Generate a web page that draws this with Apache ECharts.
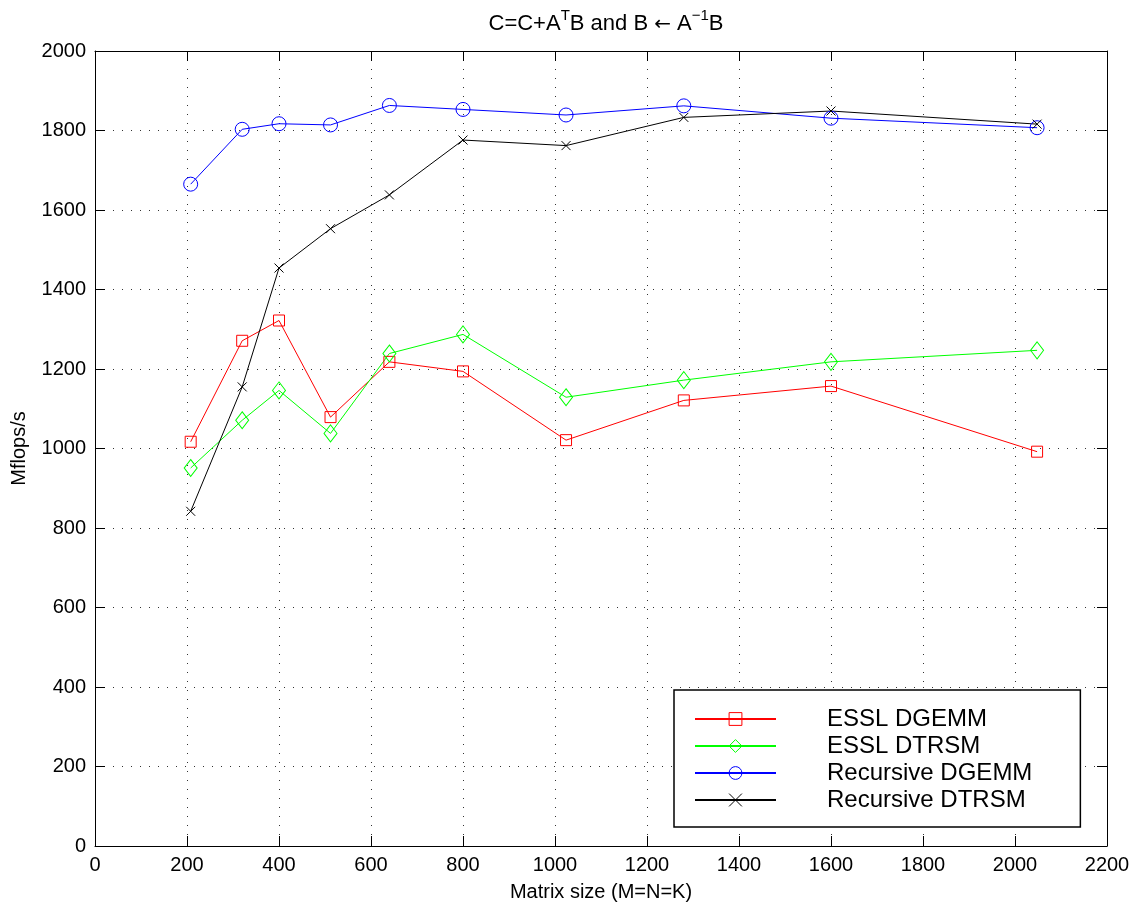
<!DOCTYPE html>
<html>
<head>
<meta charset="utf-8">
<script src="https://cdn.jsdelivr.net/npm/echarts@6/dist/echarts.min.js"></script>
<style>
html,body{margin:0;padding:0;background:#fff;}
#chart{width:1136px;height:907px;}
</style>
</head>
<body>
<div id="chart"></div>
<script>
const sizes = [208, 320, 400, 512, 640, 800, 1024, 1280, 1600, 2048];
const esslDgemm = [1017, 1271, 1322, 1079, 1218, 1194, 1021, 1121, 1157, 992];
const esslDtrsm = [951, 1071, 1146, 1038, 1239, 1287, 1129, 1172, 1218, 1247];
const recDgemm = [1665, 1803, 1817, 1814, 1863, 1853, 1839, 1862, 1831, 1807];
const recDtrsm = [842, 1155, 1454, 1553, 1638, 1776, 1762, 1833, 1849, 1816];
const seriesNames = ['ESSL DGEMM', 'ESSL DTRSM', 'Recursive DGEMM', 'Recursive DTRSM'];

const FONT = '"Liberation Sans", Arial, Helvetica, sans-serif';
const pairs = vals => sizes.map((s, i) => [s, vals[i]]);

function mkSeries(name, vals, color, symbol, symbolSize) {
  return {
    name: name,
    type: 'line',
    data: pairs(vals),
    symbol: symbol,
    symbolSize: symbolSize,
    showAllSymbol: true,
    lineStyle: { color: color, width: 1 },
    itemStyle: { color: 'transparent', borderColor: color, borderWidth: 1 },
    emphasis: { disabled: true },
    z: 3
  };
}

const gridLine = { show: true, lineStyle: { color: '#333', type: [1, 8], width: 1 } };
const axLine = { show: true, onZero: false, lineStyle: { color: '#000', width: 1 } };
const axTick = { show: true, inside: true, length: 10, lineStyle: { color: '#000', width: 1 } };
const plainNum = v => String(v);

const chart = echarts.init(document.getElementById('chart'), null, { renderer: 'canvas' });
chart.setOption({
  animation: false,
  backgroundColor: '#fff',
  textStyle: { fontFamily: FONT },
  title: {
    text: '{n|C=C+A}{s|T}{n|B and B }{ar|\u2190}{n| A}{s|\u22121}{n|B}',
    left: 601,
    textAlign: 'center',
    top: 0,
    textStyle: {
      fontWeight: 'normal',
      rich: {
        n: { fontSize: 22, color: '#000', fontWeight: 'normal', fontFamily: FONT, lineHeight: 30, verticalAlign: 'bottom' },
        ar: { fontSize: 20, color: '#000', fontWeight: 'normal', fontFamily: '"DejaVu Sans", sans-serif', lineHeight: 30, verticalAlign: 'bottom' },
        s: { fontSize: 15, color: '#000', fontWeight: 'normal', fontFamily: FONT, lineHeight: 30, verticalAlign: 'top', padding: [3, 0, 0, 0] }
      }
    }
  },
  grid: { left: 95, right: 29, top: 51, bottom: 60, containLabel: false },
  legend: {
    orient: 'vertical',
    left: 674,
    top: 690,
    data: seriesNames,
    itemWidth: 81,
    itemHeight: 16,
    itemGap: 3,
    padding: [17, 48, 15, 20],
    backgroundColor: '#fff',
    borderColor: '#000',
    borderWidth: 1.5,
    borderRadius: 0,
    selectedMode: false,
    itemStyle: { borderWidth: 1 },
    formatter: n => '{a|' + n + '}',
    textStyle: {
      rich: { a: { fontSize: 24, color: '#000', fontFamily: FONT, lineHeight: 24, padding: [0, 0, 0, 46] } }
    }
  },
  xAxis: [
    {
      type: 'value', min: 0, max: 2200, interval: 200, position: 'bottom',
      name: 'Matrix size (M=N=K)', nameLocation: 'middle', nameGap: 36,
      nameTextStyle: { fontSize: 20, color: '#000', fontFamily: FONT },
      axisLine: axLine, axisTick: axTick,
      axisLabel: { fontSize: 20, color: '#000', margin: 9, fontFamily: FONT, formatter: plainNum },
      splitLine: gridLine
    },
    {
      type: 'value', min: 0, max: 2200, interval: 200, position: 'top',
      axisLine: axLine, axisTick: axTick, axisLabel: { show: false }, splitLine: { show: false }
    }
  ],
  yAxis: [
    {
      type: 'value', min: 0, max: 2000, interval: 200, position: 'left',
      name: 'Mflops/s', nameLocation: 'middle', nameGap: 66,
      nameTextStyle: { fontSize: 20, color: '#000', fontFamily: FONT },
      axisLine: axLine, axisTick: axTick,
      axisLabel: { fontSize: 20, color: '#000', margin: 9, fontFamily: FONT, formatter: plainNum },
      splitLine: gridLine
    },
    {
      type: 'value', min: 0, max: 2000, interval: 200, position: 'right',
      axisLine: axLine, axisTick: axTick, axisLabel: { show: false }, splitLine: { show: false }
    }
  ],
  series: [
    mkSeries(seriesNames[0], esslDgemm, '#ff0000', 'rect', 11),
    mkSeries(seriesNames[1], esslDtrsm, '#00ff00', 'diamond', [13, 17]),
    mkSeries(seriesNames[2], recDgemm, '#0000ff', 'circle', 14),
    mkSeries(seriesNames[3], recDtrsm, '#000000', 'path://M0,0L10,10M10,0L0,10', 9)
  ]
});
</script>
</body>
</html>
